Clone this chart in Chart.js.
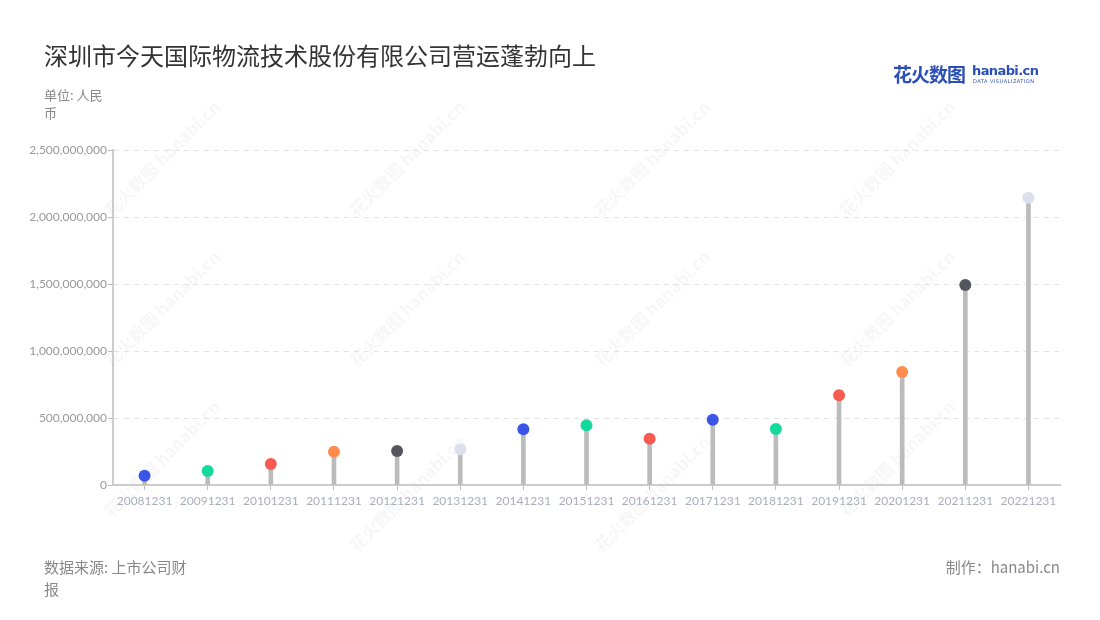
<!DOCTYPE html>
<html>
<head>
<meta charset="utf-8">
<script src="https://cdn.jsdelivr.net/npm/chart.js@4/dist/chart.umd.min.js"></script>
<style>
  body { margin: 0; background: #fff; font-family: "Noto Sans CJK SC", "Noto Sans", sans-serif; }
  #wrap { position: relative; width: 1100px; height: 620px; overflow: hidden; }
  #c { position: absolute; left: 0; top: 0; }
  .title { position: absolute; left: 44px; top: 37px; font-size: 24px; color: #333; }
  .unit { position: absolute; left: 44px; top: 86px; width: 70px; font-size: 13px; line-height: 18px; color: #888; }
  .src { position: absolute; left: 44px; top: 556px; width: 152px; font-size: 15px; line-height: 22px; color: #888; }
  .made { position: absolute; right: 40px; top: 556px; font-size: 15px; line-height: 22px; color: #888; }
  .logo { position: absolute; left: 893px; top: 60px; height: 24px; }
  .logo .cn { position: absolute; left: 0; top: 0; font-size: 19px; font-weight: bold; color: #2b4fb8; letter-spacing: -1px; white-space: nowrap; }
  .logo .en { position: absolute; left: 79px; top: 3px; font-size: 13px; font-weight: bold; color: #2b4fb8; font-family: "DejaVu Sans", sans-serif; letter-spacing: -0.6px; }
  .logo .dv { position: absolute; left: 80px; top: 18px; font-size: 5px; color: #2b4fb8; letter-spacing: 0.5px; white-space: nowrap; font-family: "DejaVu Sans", sans-serif; }
</style>
</head>
<body>
<div id="wrap">
  <canvas id="c" width="1100" height="620"></canvas>
  <div class="title">深圳市今天国际物流技术股份有限公司营运蓬勃向上</div>
  <div class="unit">单位: 人民币</div>
  <div class="src">数据来源: 上市公司财报</div>
  <div class="made">制作：hanabi.cn</div>
  <div class="logo"><span class="cn">花火数图</span><span class="en">hanabi.cn</span><span class="dv">DATA VISUALIZATION</span></div>
</div>
<script>
// dates and operating revenue (RMB)
var dates = ['20081231', '20091231', '20101231', '20111231', '20121231', '20131231', '20141231', '20151231',
             '20161231', '20171231', '20181231', '20191231', '20201231', '20211231', '20221231'];
var revenue = [69000000, 104000000, 157000000, 249000000, 254000000, 266000000, 416000000, 445000000,
               346000000, 487000000, 418000000, 669000000, 843000000, 1493000000, 2144000000];
var dotColors = ['#3b55e6', '#14d99c', '#f75a50', '#ff8c4e', '#55555f', '#dbe0ec', '#3b55e6', '#14d99c',
                 '#f75a50', '#3b55e6', '#14d99c', '#f75a50', '#ff8c4e', '#55555f', '#dbe0ec'];
var yTicks = [0, 500000000, 1000000000, 1500000000, 2000000000, 2500000000];

// faint watermark
var watermark = {
    id: 'watermark',
    beforeDraw: function(chart) {
        var ctx = chart.ctx;
        var spots = [[165, 165], [410, 165], [655, 165], [900, 165],
                     [165, 315], [410, 315], [655, 315], [900, 315],
                     [165, 465], [410, 500], [655, 500], [900, 465]];
        ctx.save();
        ctx.fillStyle = 'rgba(0,0,0,0.035)';
        ctx.font = 'bold 17px "Noto Sans CJK SC"';
        spots.forEach(function(p) {
            ctx.save();
            ctx.translate(p[0], p[1]);
            ctx.rotate(-Math.PI / 4);
            ctx.fillText('花火数图 hanabi.cn', -75, 0);
            ctx.restore();
        });
        ctx.restore();
    }
};

var ctx = document.getElementById('c').getContext('2d');
var chart = new Chart(ctx, {
    data: {
        labels: dates,
        datasets: [{
            type: 'line',
            data: revenue,
            showLine: false,
            pointRadius: 6,
            pointHoverRadius: 6,
            pointBorderWidth: 0,
            pointBackgroundColor: dotColors,
            order: 0
        }, {
            type: 'bar',
            data: revenue,
            backgroundColor: '#bbbbbb',
            barThickness: 4,
            order: 1
        }]
    },
    options: {
        responsive: false,
        animation: false,
        events: [],
        layout: { padding: { left: 0, right: 40, top: 150, bottom: 0 } },
        plugins: { legend: { display: false }, tooltip: { enabled: false } },
        scales: {
            x: {
                offset: true,
                grid: { display: true, drawOnChartArea: false, offset: false, tickLength: 5, tickColor: '#bbb' },
                border: { color: '#ccc', width: 2 },
                ticks: { color: '#a9aebd', font: { size: 12, family: 'Lato' }, padding: 4, maxRotation: 0, autoSkip: false },
                afterFit: function(s) { s.height = 135; }
            },
            y: {
                min: 0,
                max: 2500000000,
                afterBuildTicks: function(s) { s.ticks = yTicks.map(function(v) { return { value: v }; }); },
                grid: { color: '#e3e3e3', tickLength: 5, tickColor: '#bbb', tickBorderDash: [] },
                border: { color: '#ccc', width: 2, dash: [5, 5] },
                ticks: {
                    color: '#999', font: { size: 12, family: 'Lato' }, padding: 1,
                    callback: function(v) { return v.toLocaleString('en-US'); }
                },
                afterFit: function(s) { s.width = 113; }
            }
        }
    },
    plugins: [watermark]
});
</script>
</body>
</html>
